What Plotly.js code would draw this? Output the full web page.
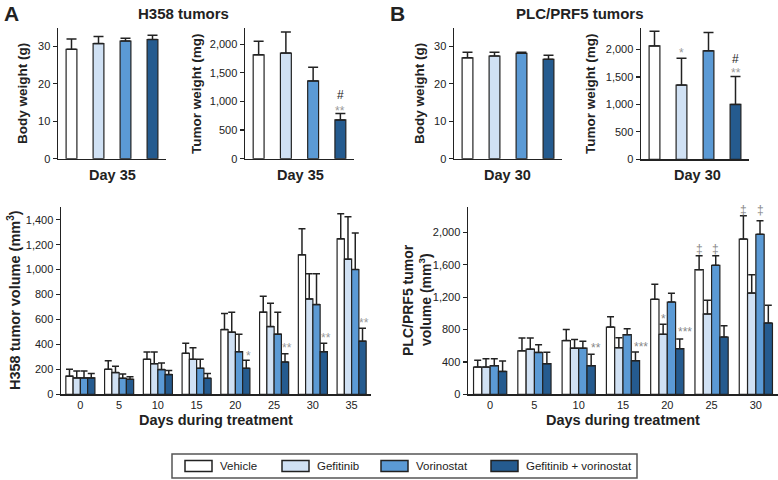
<!DOCTYPE html>
<html>
<head>
<meta charset="utf-8">
<script src="https://cdn.plot.ly/plotly-3.0.1.min.js"></script>
<style>html,body{margin:0;padding:0;background:#fff;}#chart{width:778px;height:480px;}</style>
</head>
<body>
<div id="chart"></div>
<script>
// ---------- data ----------
const groups = ['Vehicle', 'Gefitinib', 'Vorinostat', 'Gefitinib + vorinostat'];
const colors = ['#ffffff', '#d0e1f4', '#5b9ad5', '#255b8f'];

// Panel A (H358), day 35
const h358BodyWeight = [29.2, 30.7, 31.4, 31.8];
const h358BodyWeightErr = [2.7, 1.9, 0.7, 1.1];
const h358TumorWeight = [1813, 1843, 1358, 677];
const h358TumorWeightErr = [239, 367, 240, 110];

// Panel B (PLC/PRF5), day 30
const plcBodyWeight = [26.9, 27.4, 28.1, 26.5];
const plcBodyWeightErr = [1.5, 1.0, 0.3, 1.1];
const plcTumorWeight = [2065, 1351, 1975, 1000];
const plcTumorWeightErr = [268, 491, 334, 509];

// Tumor volume time courses
const h358Days = ['0', '5', '10', '15', '20', '25', '30', '35'];
const h358Vehicle = [145, 200, 281, 329, 519, 659, 1119, 1247];
const h358VehicleErr = [55, 70, 59, 81, 129, 128, 209, 201];
const h358Gefitinib = [131, 174, 246, 281, 498, 543, 765, 1084];
const h358GefitinibErr = [56, 51, 94, 93, 161, 188, 201, 340];
const h358Vorinostat = [131, 128, 198, 209, 342, 482, 720, 1001];
const h358VorinostatErr = [56, 35, 53, 72, 140, 177, 246, 292];
const h358Combo = [131, 120, 158, 128, 209, 259, 342, 426];
const h358ComboErr = [35, 21, 32, 38, 64, 67, 68, 104];

const plcDays = ['0', '5', '10', '15', '20', '25', '30'];
const plcVehicle = [336, 537, 664, 831, 1173, 1539, 1918];
const plcVehicleErr = [86, 157, 136, 127, 185, 173, 288];
const plcGefitinib = [336, 557, 570, 576, 741, 992, 1251];
const plcGefitinibErr = [103, 137, 106, 123, 123, 169, 226];
const plcVorinostat = [353, 517, 570, 736, 1140, 1593, 1976];
const plcVorinostatErr = [86, 94, 86, 74, 107, 119, 168];
const plcCombo = [283, 378, 353, 415, 563, 708, 881];
const plcComboErr = [127, 142, 143, 107, 120, 139, 218];

// significance marks
const sigTop = [
  ['A2', 3, 1110, '#', '#222'], ['A2', 3, 840, '**', '#999'],
  ['B2', 1, 1930, '*', '#999'], ['B2', 3, 1830, '#', '#222'], ['B2', 3, 1575, '**', '#999']
];
const sigH358 = [[4, 3, 310, '*'], [5, 3, 370, '**'], [6, 3, 450, '**'], [7, 3, 568, '**']];
const sigPlc = [[2, 3, 575, '**'], [3, 3, 585, '***'], [4, 1, 930, '*'], [4, 3, 772, '***'],
  [5, 0, 1790, '‡'], [5, 2, 1790, '‡'], [6, 0, 2280, '‡'], [6, 2, 2280, '‡']];

// ---------- helpers ----------
const W = 778, H = 480;
const px = v => v / W;
const py = v => 1 - v / H;
const FONT = 'Liberation Sans, Arial, Helvetica, sans-serif';
const INK = '#222';
const zeros = n => new Array(n).fill(0);

function topTrace(vals, errs, xa, ya) {
  return {
    type: 'bar', x: groups, y: vals, xaxis: xa, yaxis: ya, width: 0.4,
    marker: { color: colors, line: { color: INK, width: 1.2 } },
    error_y: { type: 'data', symmetric: false, array: errs, arrayminus: zeros(errs.length),
      color: INK, thickness: 1.5, width: 5 },
    showlegend: false, hoverinfo: 'skip'
  };
}
function volTrace(days, vals, errs, i, xa, ya) {
  return {
    type: 'bar', x: days, y: vals, name: groups[i], xaxis: xa, yaxis: ya,
    marker: { color: colors[i], line: { color: INK, width: 1.2 } },
    error_y: { type: 'data', symmetric: false, array: errs, arrayminus: zeros(errs.length),
      color: INK, thickness: 1.5, width: 3.5 },
    showlegend: false, hoverinfo: 'skip'
  };
}

const data = [
  topTrace(h358BodyWeight, h358BodyWeightErr, 'x', 'y'),
  topTrace(h358TumorWeight, h358TumorWeightErr, 'x2', 'y2'),
  topTrace(plcBodyWeight, plcBodyWeightErr, 'x3', 'y3'),
  topTrace(plcTumorWeight, plcTumorWeightErr, 'x4', 'y4'),
  volTrace(h358Days, h358Vehicle, h358VehicleErr, 0, 'x5', 'y5'),
  volTrace(h358Days, h358Gefitinib, h358GefitinibErr, 1, 'x5', 'y5'),
  volTrace(h358Days, h358Vorinostat, h358VorinostatErr, 2, 'x5', 'y5'),
  volTrace(h358Days, h358Combo, h358ComboErr, 3, 'x5', 'y5'),
  volTrace(plcDays, plcVehicle, plcVehicleErr, 0, 'x6', 'y6'),
  volTrace(plcDays, plcGefitinib, plcGefitinibErr, 1, 'x6', 'y6'),
  volTrace(plcDays, plcVorinostat, plcVorinostatErr, 2, 'x6', 'y6'),
  volTrace(plcDays, plcCombo, plcComboErr, 3, 'x6', 'y6')
];

const tickFont = { family: FONT, size: 11, color: INK };
function xTop(l, r, anchor) {
  return { domain: [px(l), px(r)], anchor: anchor, type: 'category', showline: true, linecolor: INK,
    linewidth: 1.5, showticklabels: false, ticks: '', showgrid: false, zeroline: false,
    range: [-0.5, 3.5], fixedrange: true };
}
function yAx(b, t, range, dtick, anchor) {
  return { domain: [py(b), py(t)], anchor: anchor, range: range, dtick: dtick, tick0: 0,
    showline: true, linecolor: INK, linewidth: 1.5, ticks: 'outside', ticklen: 4, tickwidth: 1.2,
    tickcolor: INK, tickfont: tickFont, showgrid: false, zeroline: false, separatethousands: true,
    fixedrange: true };
}
function xVol(l, r, n, anchor) {
  return { domain: [px(l), px(r)], anchor: anchor, type: 'category', showline: true, linecolor: INK,
    linewidth: 1.5, ticks: '', tickfont: tickFont, showgrid: false, zeroline: false,
    range: [-0.5, n - 0.5], fixedrange: true };
}

const BARGAP = 0.25;
const barOff = i => { const w = (1 - BARGAP) / 4; return -(1 - BARGAP) / 2 + w * (i + 0.5); };

const annotations = [];
function txt(x, y, text, size, opts) {
  annotations.push(Object.assign({ xref: 'paper', yref: 'paper', x: px(x), y: py(y), text: text,
    showarrow: false, font: { family: FONT, size: size, color: INK }, xanchor: 'center', yanchor: 'middle' }, opts || {}));
}
// panel letters and titles
txt(11, 13, '<b>A</b>', 21);
txt(397, 13, '<b>B</b>', 21);
txt(183, 13, '<b>H358 tumors</b>', 15);
txt(580, 13, '<b>PLC/PRF5 tumors</b>', 15);
// axis titles
txt(23, 94, '<b>Body weight (g)</b>', 13.5, { textangle: -90 });
txt(197, 94, '<b>Tumor weight (mg)</b>', 13.5, { textangle: -90 });
txt(420, 94, '<b>Body weight (g)</b>', 13.5, { textangle: -90 });
txt(591, 94, '<b>Tumor weight (mg)</b>', 13.5, { textangle: -90 });
txt(112, 175, '<b>Day 35</b>', 14.5);
txt(300, 175, '<b>Day 35</b>', 14.5);
txt(507, 175, '<b>Day 30</b>', 14.5);
txt(697, 175, '<b>Day 30</b>', 14.5);
txt(14, 300, '<b>H358 tumor volume (mm<sup>3</sup>)</b>', 14.5, { textangle: -90 });
txt(408, 300, '<b>PLC/PRF5 tumor</b>', 14, { textangle: -90 });
txt(425, 300, '<b>volume (mm<sup>3</sup>)</b>', 14, { textangle: -90 });
txt(216, 420, '<b>Days during treatment</b>', 14.5);
txt(623, 420, '<b>Days during treatment</b>', 14.5);

// significance marks (data coordinates)
const topAxes = { A2: ['x2', 'y2'], B2: ['x4', 'y4'] };
const sigFont = (c) => ({ family: FONT, size: 12, color: c });
sigTop.forEach(([p, ci, yv, t, c]) => {
  annotations.push({ xref: topAxes[p][0], yref: topAxes[p][1], x: ci, y: yv, text: t, showarrow: false,
    font: sigFont(c), xanchor: 'center', yanchor: 'middle' });
});
sigH358.forEach(([ci, si, yv, t]) => {
  annotations.push({ xref: 'x5', yref: 'y5', x: ci + barOff(si) + 0.05, y: yv, text: t, showarrow: false,
    font: sigFont('#999'), xanchor: 'center', yanchor: 'middle' });
});
sigPlc.forEach(([ci, si, yv, t]) => {
  const extra = si === 3 ? 0.12 : 0;
  annotations.push({ xref: 'x6', yref: 'y6', x: ci + barOff(si) + extra, y: yv, text: t, showarrow: false,
    font: sigFont('#888'), xanchor: 'center', yanchor: 'middle' });
});

// custom legend
const shapes = [{ type: 'rect', xref: 'paper', yref: 'paper', x0: px(172), x1: px(637), y0: py(478), y1: py(454),
  line: { color: '#555', width: 1.5 }, fillcolor: 'rgba(0,0,0,0)' }];
const legX = [185, 282, 381, 491];
groups.forEach((g, i) => {
  shapes.push({ type: 'rect', xref: 'paper', yref: 'paper', x0: px(legX[i]), x1: px(legX[i] + 27),
    y0: py(471.5), y1: py(460.5), fillcolor: colors[i], line: { color: INK, width: 1.5 } });
  txt(legX[i] + 33, 466, g, 11.5, { xanchor: 'left' });
});

const layout = {
  width: W, height: H, margin: { l: 0, r: 0, t: 0, b: 0 },
  paper_bgcolor: '#fff', plot_bgcolor: 'rgba(0,0,0,0)',
  font: { family: FONT, color: INK },
  barmode: 'group', bargap: BARGAP, bargroupgap: 0, showlegend: false,
  xaxis: xTop(58, 166, 'y'), yaxis: yAx(158.7, 27.5, [0, 35], 10, 'x'),
  xaxis2: xTop(245, 354, 'y2'), yaxis2: yAx(158.7, 27.5, [0, 2290], 500, 'x2'),
  xaxis3: xTop(454, 562, 'y3'), yaxis3: yAx(158.7, 27.5, [0, 35], 10, 'x3'),
  xaxis4: xTop(641, 749, 'y4'), yaxis4: yAx(159.3, 27.5, [0, 2400], 500, 'x4'),
  xaxis5: xVol(61, 371, h358Days.length, 'y5'), yaxis5: yAx(394.3, 207.3, [0, 1500], 200, 'x5'),
  xaxis6: xVol(468, 778, plcDays.length, 'y6'), yaxis6: yAx(394.3, 207.3, [0, 2310], 400, 'x6'),
  annotations: annotations, shapes: shapes
};

Plotly.newPlot('chart', data, layout, { staticPlot: true, displayModeBar: false });
</script>
</body>
</html>
